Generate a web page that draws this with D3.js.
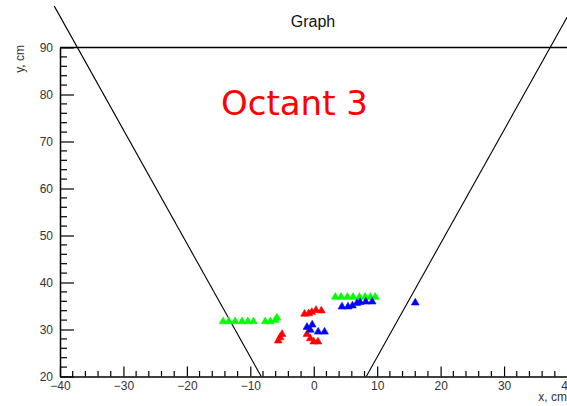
<!DOCTYPE html>
<html>
<head>
  <meta charset="utf-8">
  <script src="https://d3js.org/d3.v7.min.js"></script>
  <style>
    body { margin: 0; background: #fff; }
    text { font-family: "Liberation Sans", Arial, sans-serif; }
  </style>
</head>
<body>
<script type="text/javascript">
"use strict";

// hits per colour (x, y in cm)
var greenX = [-14.3, -13.4, -12.4, -11.3, -10.4, -9.5, -7.65, -6.85, -6.05, -5.8,
              3.4, 4.3, 5.3, 6.2, 7.2, 8.1, 8.9, 9.7];
var greenY = [31.7, 31.7, 31.7, 31.7, 31.7, 31.7, 31.7, 31.7, 32.0, 32.5,
              36.9, 36.9, 36.9, 36.9, 36.9, 36.9, 36.9, 36.9];
var redX = [-5.0, -5.3, -5.6, -1.45, -0.8, -0.3, 0.35, 1.2, -1.07, -0.55, 0.0, 0.66];
var redY = [29.0, 28.3, 27.6, 33.3, 33.4, 33.7, 34.1, 34.0, 29.0, 28.1, 27.4, 27.4];
var blueX = [-1.07, -0.24, -0.55, 0.7, 1.7, 4.45, 5.4, 6.1, 6.8, 7.3, 8.2, 9.2, 16.0];
var blueY = [30.5, 31.0, 29.9, 29.5, 29.5, 34.85, 34.85, 35.05, 35.6, 35.8, 35.9, 35.9, 35.7];

// octant boundary lines (22.5 deg) and the top line
var leftLineX = [-40.9, -8.28], leftLineY = [98.8, 20];
var rightLineX = [41.4, 8.28], rightLineY = [100, 20];
var topLineX = [-40, 40], topLineY = [90, 90];

var xTicks = [-40, -30, -20, -10, 0, 10, 20, 30, 40];
var yTicks = [20, 30, 40, 50, 60, 70, 80, 90];

var width = 567, height = 406;
var svg = d3.select("body").append("svg")
    .attr("width", width)
    .attr("height", height);

var x = d3.scaleLinear().domain([-40, 40]).range([60, 567.5]);
var y = d3.scaleLinear().domain([20, 90]).range([376.5, 47.5]);

// title
svg.append("text")
    .attr("x", 313)
    .attr("y", 27)
    .attr("text-anchor", "middle")
    .style("font-size", "16px")
    .style("fill", "#111")
    .text("Graph");

// axes (ticks pointing inside like ROOT)
var xAxis = d3.axisBottom(x).tickValues(xTicks).tickSizeInner(-10).tickSizeOuter(0)
    .tickFormat(d3.format("d"));
var gx = svg.append("g").attr("transform", "translate(0," + y(20) + ")").call(xAxis);
gx.select(".domain").attr("stroke", "#000").attr("stroke-width", 1.5);
gx.selectAll(".tick line").attr("stroke", "#000").attr("stroke-width", 1.2);
gx.selectAll(".tick text").attr("y", 5).attr("dy", "0.71em")
    .style("font-size", "12px").style("fill", "#333").style("font-family", "Liberation Sans, Arial, sans-serif");

var xMinor = d3.range(-40, 40.1, 2).filter(function (d) { return d % 10 !== 0; });
gx.selectAll("line.minor").data(xMinor).enter().append("line")
    .attr("class", "minor")
    .attr("x1", function (d) { return x(d); })
    .attr("x2", function (d) { return x(d); })
    .attr("y1", 0).attr("y2", -5.5)
    .attr("stroke", "#000").attr("stroke-width", 1.2);

var yAxis = d3.axisLeft(y).tickValues(yTicks).tickSizeInner(-14).tickSizeOuter(0)
    .tickFormat(d3.format("d"));
var gy = svg.append("g").attr("transform", "translate(" + x(-40) + ",0)").call(yAxis);
gy.select(".domain").attr("stroke", "#000").attr("stroke-width", 1.5);
gy.selectAll(".tick line").attr("stroke", "#000").attr("stroke-width", 1.2);
gy.selectAll(".tick text").attr("x", -7)
    .style("font-size", "12px").style("fill", "#333").style("font-family", "Liberation Sans, Arial, sans-serif");

var yMinor = d3.range(20, 90.1, 2).filter(function (d) { return d % 10 !== 0; });
gy.selectAll("line.minor").data(yMinor).enter().append("line")
    .attr("class", "minor")
    .attr("y1", function (d) { return y(d); })
    .attr("y2", function (d) { return y(d); })
    .attr("x1", 0).attr("x2", 7)
    .attr("stroke", "#000").attr("stroke-width", 1.2);

// axis titles
svg.append("text")
    .attr("x", 567)
    .attr("y", 401)
    .attr("text-anchor", "end")
    .style("font-size", "12px")
    .style("fill", "#333")
    .text("x, cm");

svg.append("text")
    .attr("transform", "translate(24,45) rotate(-90)")
    .attr("text-anchor", "end")
    .style("font-size", "12px")
    .style("fill", "#333")
    .text("y, cm");

// lines
var line = d3.line().x(function (d) { return x(d[0]); }).y(function (d) { return y(d[1]); });
function drawLine(xs, ys, w) {
    svg.append("path")
        .datum(d3.zip(xs, ys))
        .attr("d", line)
        .attr("fill", "none")
        .attr("stroke", "#000")
        .attr("stroke-width", w);
}
drawLine(topLineX, topLineY, 1.5);
drawLine(leftLineX, leftLineY, 1.1);
drawLine(rightLineX, rightLineY, 1.1);

// markers
var tri = d3.symbol().type(d3.symbolTriangle).size(26);
function drawPoints(xs, ys, colour) {
    svg.append("g").selectAll("path")
        .data(d3.zip(xs, ys))
        .enter().append("path")
        .attr("d", tri)
        .attr("transform", function (d) { return "translate(" + x(d[0]) + "," + y(d[1]) + ")"; })
        .attr("fill", colour)
        .attr("stroke", colour)
        .attr("stroke-width", 0.6)
        .attr("stroke-linejoin", "round");
}
drawPoints(greenX, greenY, "#00ff00");
drawPoints(redX, redY, "#ff0000");
drawPoints(blueX, blueY, "#0000ff");

// label
svg.append("text")
    .attr("x", 221)
    .attr("y", 115)
    .style("font-family", "DejaVu Sans, sans-serif")
    .style("font-size", "34px")
    .style("fill", "#ff0000")
    .text("Octant 3");
</script>
</body>
</html>
